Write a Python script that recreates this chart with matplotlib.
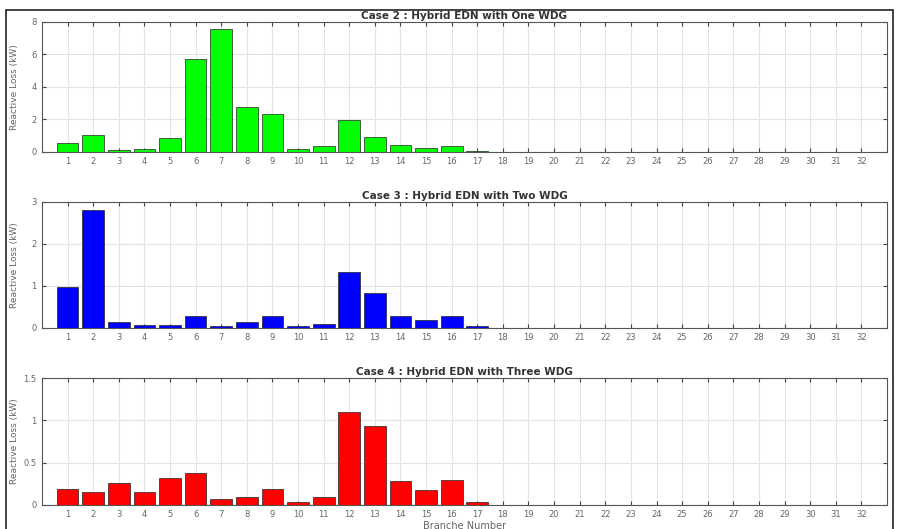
import matplotlib.pyplot as plt
import numpy as np

branches = np.arange(1, 33)

# reactive loss per branch (kW), branches 18-32 carry no loss
loss_one_wdg = [0.56, 1.03, 0.14, 0.20, 0.88, 5.74, 7.59, 2.78, 2.32, 0.18,
                0.33, 1.95, 0.93, 0.39, 0.25, 0.35, 0.05] + [0.0] * 15
loss_two_wdg = [0.98, 2.80, 0.13, 0.055, 0.07, 0.29, 0.05, 0.14, 0.27, 0.05,
                0.10, 1.33, 0.83, 0.28, 0.18, 0.28, 0.03] + [0.0] * 15
loss_three_wdg = [0.18, 0.15, 0.26, 0.15, 0.32, 0.38, 0.063, 0.095, 0.19, 0.035,
                  0.087, 1.095, 0.937, 0.28, 0.174, 0.29, 0.035] + [0.0] * 15

titles = ['Case 2 : Hybrid EDN with One WDG',
          'Case 3 : Hybrid EDN with Two WDG',
          'Case 4 : Hybrid EDN with Three WDG']
colors = ['#00ff00', '#0000ff', '#ff0000']
ylims = [8, 3, 1.5]
yticks = [[0, 2, 4, 6, 8], [0, 1, 2, 3], [0, 0.5, 1, 1.5]]
yticklabels = [['0', '2', '4', '6', '8'], ['0', '1', '2', '3'], ['0', '0.5', '1', '1.5']]

fig = plt.figure(figsize=(8.97, 5.29), dpi=100)
positions = [[0.0468, 0.7130, 0.9420, 0.2455],
             [0.0468, 0.3805, 0.9420, 0.2380],
             [0.0468, 0.0460, 0.9420, 0.2390]]

for pos, vals, title, col, ymax, yt, ytl in zip(positions,
                                                  [loss_one_wdg, loss_two_wdg, loss_three_wdg],
                                                  titles, colors, ylims, yticks, yticklabels):
    ax = fig.add_axes(pos)
    ax.bar(branches, vals, width=0.85, color=col, edgecolor='#222222', linewidth=0.5, zorder=3)
    ax.set_xlim(0, 33)
    ax.set_ylim(0, ymax)
    ax.set_xticks(branches)
    ax.set_xticklabels([str(b) for b in branches])
    ax.set_yticks(yt)
    ax.set_yticklabels(ytl)
    ax.grid(True, color='#e3e3e3', linewidth=0.8, zorder=0)
    ax.tick_params(direction='in', top=True, right=True, labelsize=6,
                   labelcolor='#666666', color='#444444', length=3, pad=4)
    for s in ax.spines.values():
        s.set_color('#555555')
        s.set_linewidth(0.8)
    ax.set_title(title, fontsize=7.5, fontweight='bold', color='#333333', pad=2)
    ax.set_ylabel('Reactive Loss (kW)', fontsize=6.5, color='#666666')
    ax.yaxis.set_label_coords(-0.027, 0.5)

ax.set_xlabel('Branche Number', fontsize=7, color='#666666', labelpad=1)

# outer frame of the figure
fig.add_artist(plt.Rectangle((0.007, -0.01), 0.988, 0.991, transform=fig.transFigure,
                             fill=False, edgecolor='#222222', linewidth=1.2))

fig.savefig('out.png', dpi=100)
